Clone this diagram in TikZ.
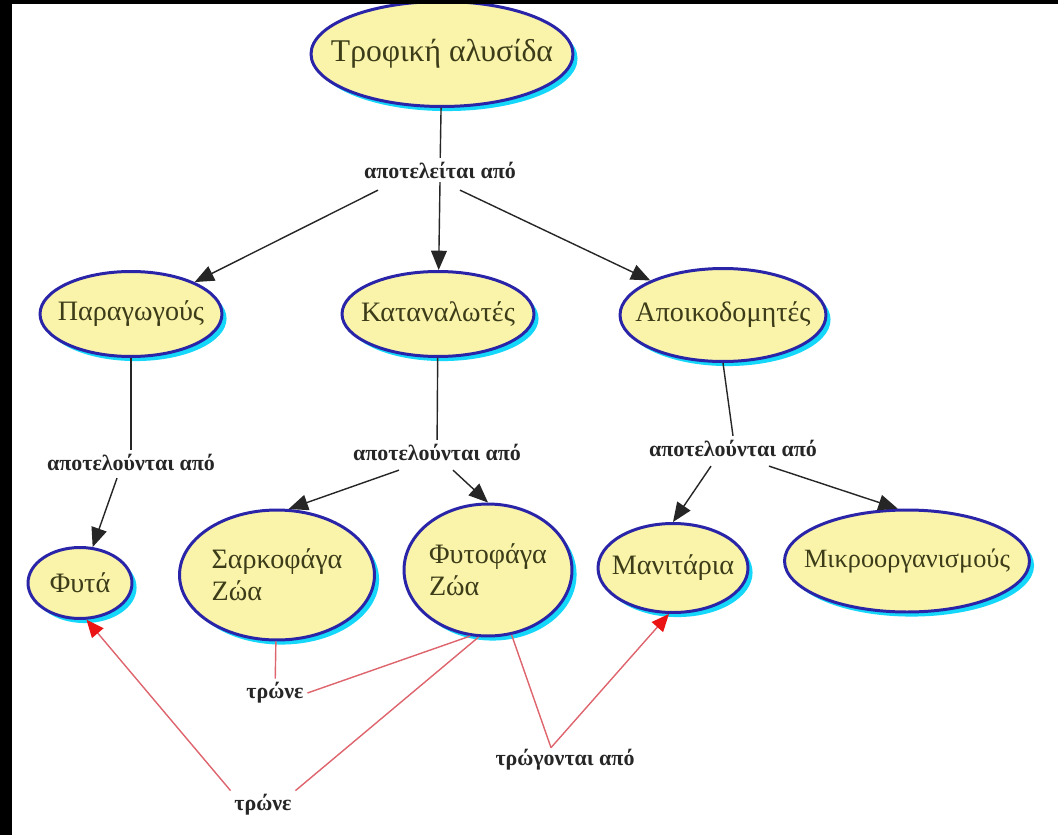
\documentclass[tikz,border=0pt]{standalone}
\usepackage{fontspec}
\setmainfont{Liberation Serif}
\usetikzlibrary{shapes.geometric,shadows,arrows.meta,calc,positioning}
\definecolor{conceptfill}{RGB}{250,244,170}
\definecolor{conceptline}{RGB}{42,36,168}
\definecolor{conceptshadow}{RGB}{20,215,250}
\definecolor{concepttext}{RGB}{60,60,25}
\definecolor{eatline}{RGB}{222,100,110}
\definecolor{eathead}{RGB}{235,20,20}
\tikzset{
  concept/.style={ellipse, draw=conceptline, line width=1.7pt, fill=conceptfill,
    text=concepttext, inner xsep=-0.3cm, inner ysep=0pt, font=\fontsize{16}{18}\selectfont,
    drop shadow={shadow xshift=2.6pt, shadow yshift=-2.6pt, fill=conceptshadow, opacity=1}},
  linkword/.style={font=\bfseries\fontsize{12.5}{14}\selectfont, inner sep=2pt, text=black!85},
  isa/.style={black!85, line width=0.8pt, -{Triangle[length=11pt,width=9pt]}},
  eats/.style={eatline, line width=0.8pt},
  eatsto/.style={eats, -{Triangle[length=10pt,width=8.5pt,color=eathead]}}
}
\begin{document}
\begin{tikzpicture}[x=0.02cm, y=-0.02cm]
\useasboundingbox (0,0) rectangle (1058,835);
\fill [white] (0,0) rectangle (1058,835);

% concepts
\node [concept, inner xsep=-0.5cm, font=\fontsize{18}{20}\selectfont, minimum width=5.24cm, minimum height=2.1cm] (chain) at (442,54) {Τροφική αλυσίδα};
\node [concept, minimum width=3.64cm, minimum height=1.7cm] (producers) at (131,314) {Παραγωγούς};
\node [concept, minimum width=3.84cm, minimum height=1.7cm] (consumers) at (438,314) {Καταναλωτές};
\node [concept, minimum width=4.12cm, minimum height=1.86cm] (decomposers) at (723,315) {Αποικοδομητές};
\node [concept, minimum width=2.08cm, minimum height=1.42cm] (plants) at (80,583) {Φυτά};
\node [concept, align=left, minimum width=3.9cm, minimum height=2.6cm] (carnivores) at (277,575) {Σαρκοφάγα\\Ζώα};
\node [concept, align=left, minimum width=3.36cm, minimum height=2.64cm] (herbivores) at (488,570) {Φυτοφάγα\\Ζώα};
\node [concept, minimum width=3cm, minimum height=1.78cm] (mushrooms) at (673,568) {Μανιτάρια};
\node [concept, inner xsep=-0.45cm, font=\fontsize{15}{17}\selectfont, minimum width=4.9cm, minimum height=2.04cm] (microbes) at (907,561) {Μικροοργανισμούς};

% linking words
\node [linkword] (consists) at (440,170) {αποτελείται από};
\node [linkword] (consistP) at (131,462) {αποτελούνται από};
\node [linkword] (consistC) at (437,452) {αποτελούνται από};
\node [linkword] (consistD) at (733,448) {αποτελούνται από};
\node [linkword] (eatC) at (275,693) {τρώνε};
\node [linkword] (eatP) at (263,805) {τρώνε};
\node [linkword] (eatM) at (565,760) {τρώγονται από};

\draw [isa, -] (chain) -- (consists);
\draw [isa] ($(consists.south)+(-62,8)$) -- (producers);
\draw [isa] (consists.south) -- (consumers);
\draw [isa] ($(consists.south)+(20,8)$) -- (decomposers);

\draw [isa, -] (producers) -- (consistP);
\draw [isa] ($(consistP.south)+(-14,4)$) -- (plants);
\draw [isa, -] (consumers) -- (consistC);
\draw [isa] ($(consistC.south)+(-38,6)$) -- (carnivores.80);
\draw [isa] ($(consistC.south)+(16,6)$) -- (herbivores.north);
\draw [isa, -] (decomposers.south) -- (consistD.north);
\draw [isa] ($(consistD.south)+(-22,6)$) -- (mushrooms.north);
\draw [isa] ($(consistD.south)+(36,6)$) -- (microbes.100);

% who eats whom
\draw [eats] (carnivores) -- (eatC);
\draw [eats] (herbivores.255) -- (eatC.east);
\draw [eats] (herbivores.262) -- (eatP.north east);
\draw [eatsto] (eatP.north west) -- (plants.280);
\coordinate (apex) at ($(eatM.north)+(-14,2)$);
\draw [eats] (herbivores.290) -- (apex);
\draw [eatsto] (apex) -- (mushrooms.265);

% black frame strips
\fill [black] (0,0) rectangle (1058,4);
\fill [black] (0,0) rectangle (12,835);
\end{tikzpicture}
\end{document}
